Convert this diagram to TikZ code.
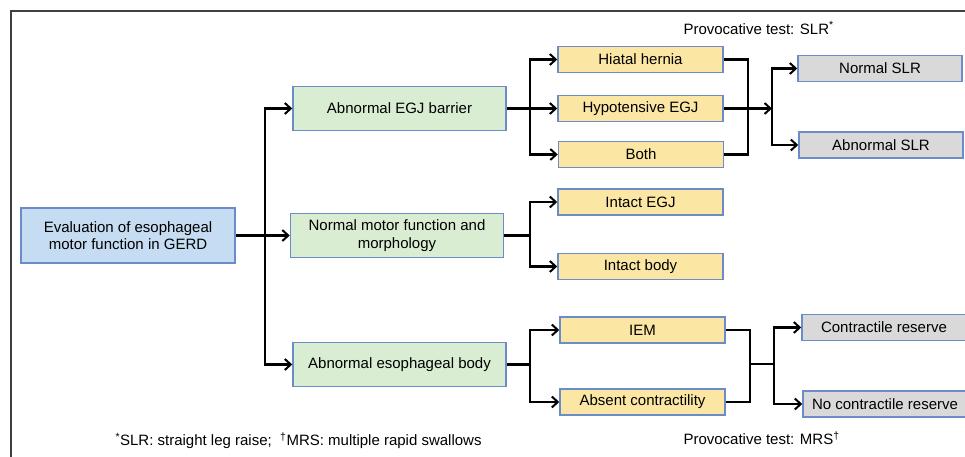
\documentclass[tikz,border=0pt]{standalone}
\usepackage{fontspec}
\setmainfont{Liberation Sans}
\usepackage{tikz}
\usetikzlibrary{arrows.meta}
\usepackage{xcolor}

\definecolor{boxline}{HTML}{6A8CC8}
\definecolor{rootfill}{HTML}{C5DCF2}
\definecolor{levelfill}{HTML}{D9EDD3}
\definecolor{subfill}{HTML}{FCE6A4}
\definecolor{testfill}{HTML}{D9D9D9}

\begin{document}
\begin{tikzpicture}[x=1pt,y=-1pt,font=\fontsize{15}{17.5}\selectfont]
	 \tikzstyle{box}=[draw=boxline,line width=1.5pt,rectangle,inner sep=2pt,align=center]
	 \tikzstyle{root box} = [box, fill=rootfill, minimum width=214pt, minimum height=55pt]
	 \tikzstyle{level box} = [box, fill=levelfill, minimum width=213pt, minimum height=44pt]
	 \tikzstyle{sub box} = [box, fill=subfill, minimum width=165pt, minimum height=26pt]
	 \tikzstyle{test box} = [box, fill=testfill, minimum width=164pt, minimum height=26pt]
	 \tikzstyle{edge} = [draw,line width=2.2pt,black]
	 \tikzstyle{arrow edge} = [edge,-{Straight Barb[length=6pt,width=11pt,line width=2pt]}]

	 \useasboundingbox (0,0) rectangle (965,457);
	 \draw[black!75,line width=1.3pt] (11,470) -- (11,11) -- (980,11);

	 \node[root box] (eval) at (128,235.5) 	{Evaluation of esophageal\\motor function in GERD};
	 \node[level box] (egj) at (399.5,108.5) 	{Abnormal EGJ barrier};
	 \node[level box] (normal) at (397,235.5) 	{Normal motor function and\\morphology};
	 \node[level box] (body) at (399.5,364.5) 	{Abnormal esophageal body};

	 \node[sub box] (hiatal) at (640.5,59.5) 	{Hiatal hernia};
	 \node[sub box] (hypo) at (640.5,108.5) 	{Hypotensive EGJ};
	 \node[sub box] (both) at (641,154.5) 	{Both};
	 \node[sub box] (integj) at (640.5,202) 	{Intact EGJ};
	 \node[sub box] (intbody) at (640.5,266.5) 	{Intact body};
	 \node[sub box] (iem) at (642.5,330) 	{IEM};
	 \node[sub box] (absent) at (642.5,402) 	{Absent contractility};

	 \node[test box] (nslr) at (880,68.5) 	{Normal SLR};
	 \node[test box] (aslr) at (881,145) 	{Abnormal SLR};
	 \node[test box] (cres) at (884,327.5) 	{Contractile reserve};
	 \node[test box] (nocres) at (885,404) 	{No contractile reserve};

	 \node[anchor=west] (slrnote) at (680,28) 	{Provocative test: SLR\textsuperscript{*}};
	 \node[anchor=west] (mrsnote) at (680,438) 	{Provocative test: MRS\textsuperscript{†}};
	 \node[anchor=west] (legend) at (112,441) 	{\textsuperscript{*}SLR: straight leg raise;\ \ \textsuperscript{†}MRS: multiple rapid swallows};

	 \coordinate (trunk) at (265,235.5);
	 \coordinate (split1) at (530,108.5);
	 \coordinate (split2) at (530,235.5);
	 \coordinate (split3) at (530,364.5);
	 \coordinate (join1) at (748,108.5);
	 \coordinate (fork1) at (772,108.5);
	 \coordinate (join2) at (750,364);
	 \coordinate (fork2) at (774,364);

	 \draw[arrow edge] (eval) -- (normal);
	 \draw[arrow edge] (trunk) |- (egj);
	 \draw[arrow edge] (trunk) |- (body);

	 \draw[arrow edge] (egj) -- (hypo);
	 \draw[arrow edge] (split1) |- (hiatal);
	 \draw[arrow edge] (split1) |- (both);
	 \draw[edge] (normal) -- (split2);
	 \draw[arrow edge] (split2) |- (integj);
	 \draw[arrow edge] (split2) |- (intbody);
	 \draw[edge] (body) -- (split3);
	 \draw[arrow edge] (split3) |- (iem);
	 \draw[arrow edge] (split3) |- (absent);

	 \draw[edge] (hiatal) -| (join1) |- (both);
	 \draw[edge] (hypo) -- (join1);
	 \draw[arrow edge] (join1) -- (fork1);
	 \draw[arrow edge] (fork1) |- (nslr);
	 \draw[arrow edge] (fork1) |- (aslr);

	 \draw[edge] (iem) -| (join2) |- (absent);
	 \draw[edge] (join2) -- (fork2);
	 \draw[arrow edge] (fork2) |- (cres);
	 \draw[arrow edge] (fork2) |- (nocres);
 \end{tikzpicture}
\end{document}
